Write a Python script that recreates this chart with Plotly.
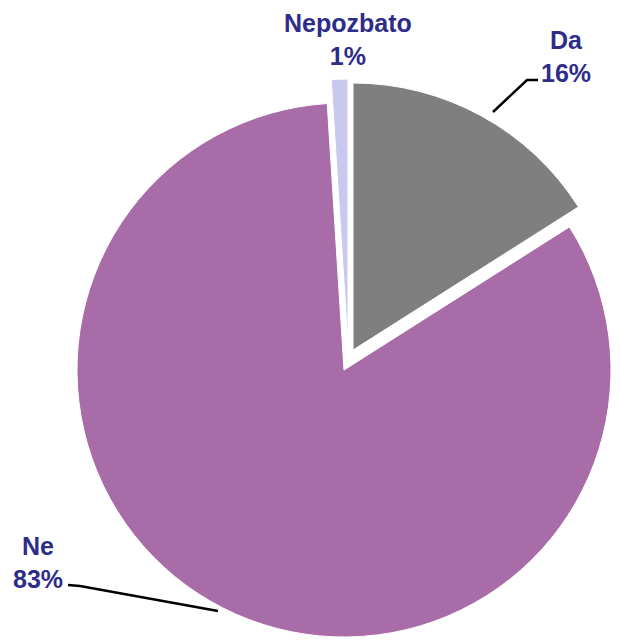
import plotly.graph_objects as go

labels = ["Da", "Ne", "Nepozbato"]
values = [16, 83, 1]
pct_text = ["16%", "83%", "1%"]
colors = ["#7F7F7F", "#A86CA8", "#C9C9F0"]

W, H = 620, 643
text_color = "#2E2C8A"

# slice placement (pixels): base pie centre/radius and exploded offsets
base_cx, base_cy, base_r = 344, 370, 267
offsets = {"Da": (9, -20), "Ne": (0, 0), "Nepozbato": (4, -24)}


def domain_for(cx, cy, r):
    return dict(x=[max(0.0, (cx - r) / W), min(1.0, (cx + r) / W)],
                y=[max(0.0, (H - cy - r) / H), min(1.0, (H - cy + r) / H)])


fig = go.Figure()
for i, lab in enumerate(labels):
    dx, dy = offsets[lab]
    cols = [c if j == i else "rgba(0,0,0,0)" for j, c in enumerate(colors)]
    lw = [1 if j == i else 0 for j in range(len(labels))]
    fig.add_trace(go.Pie(
        labels=labels, values=values, sort=False, direction="clockwise",
        rotation=0, textinfo="none", hoverinfo="label+percent",
        marker=dict(colors=cols, line=dict(color="white", width=lw)),
        domain=domain_for(base_cx + dx, base_cy + dy, base_r),
        showlegend=False,
    ))


def px(x, y):
    return x / W, 1 - y / H


annots = [
    ("Nepozbato", "1%", 348, 40),
    ("Da", "16%", 566, 57),
    ("Ne", "83%", 38, 562),
]
for lab, pct, x, y in annots:
    ax, ay = px(x, y)
    fig.add_annotation(x=ax, y=ay, xref="paper", yref="paper",
                       text=f"<b>{lab}<br>{pct}</b>", showarrow=False,
                       font=dict(family="Arial, Liberation Sans", size=25,
                                 color=text_color),
                       align="center", xanchor="center", yanchor="middle")


def path(points):
    s = ""
    for k, (x, y) in enumerate(points):
        X, Y = px(x, y)
        s += ("M" if k == 0 else " L") + f"{X},{Y}"
    return s


fig.add_shape(type="path", xref="paper", yref="paper",
              path=path([(538, 80), (527, 80), (493, 112)]),
              line=dict(color="black", width=2.5))
fig.add_shape(type="path", xref="paper", yref="paper",
              path=path([(68, 585), (80, 586), (218, 611)]),
              line=dict(color="black", width=2.5))

fig.update_layout(width=W, height=H, margin=dict(l=0, r=0, t=0, b=0),
                  paper_bgcolor="white", plot_bgcolor="white")

fig.write_html("out.html")
